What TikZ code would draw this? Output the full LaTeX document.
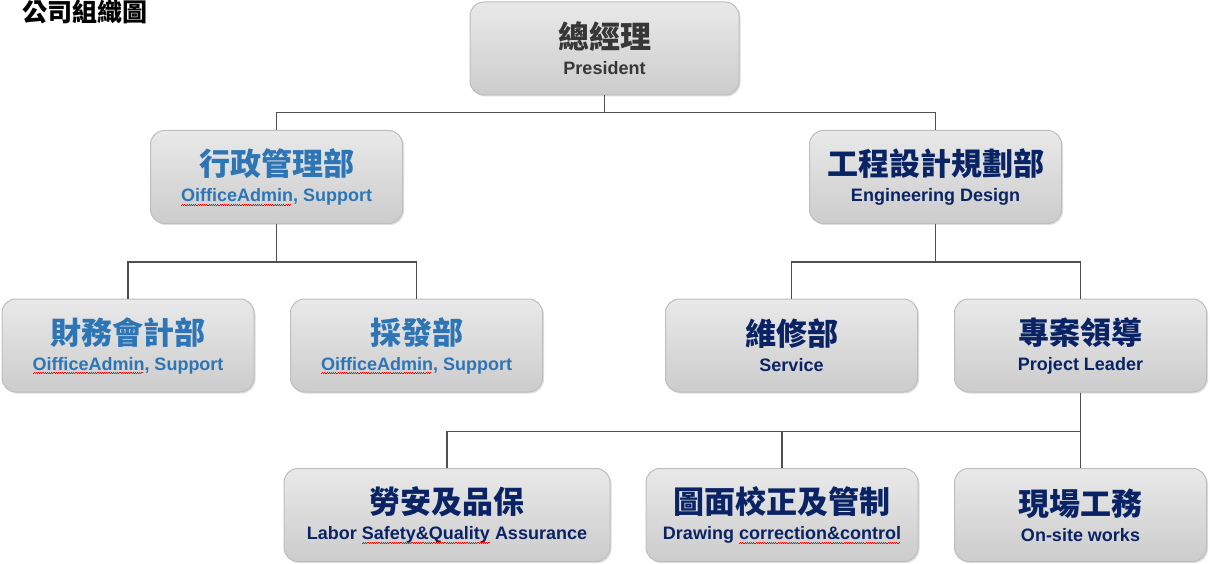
\documentclass[tikz,border=0pt]{standalone}
\usepackage{fontspec}
\setmainfont{Liberation Sans}
\newfontfamily\cjkfont{Noto Sans CJK TC}
\usetikzlibrary{shadows}
\definecolor{boxtop}{RGB}{233, 233, 233}
\definecolor{boxbot}{RGB}{204, 204, 204}
\definecolor{boxrim}{RGB}{190, 190, 190}
\definecolor{linegray}{RGB}{80, 80, 80}
\definecolor{officeblue}{RGB}{46, 117, 182}
\definecolor{navy}{RGB}{10, 35, 100}
\definecolor{darktext}{RGB}{55, 55, 55}
\tikzset{
  unitbox/.style = {rounded corners=14pt, top color=boxtop, bottom color=boxbot,
    draw=boxrim, line width=1pt, drop shadow={opacity=0.25, shadow xshift=1.5pt, shadow yshift=-1.5pt},
    minimum width=252pt, minimum height=93pt, inner sep=0pt, align=center,
    font=\bfseries\fontsize{18}{26}\selectfont},
  link/.style = {draw=linegray, line width=1.8pt}
}
\newcommand{\zh}[1]{{\cjkfont\bfseries\fontsize{31}{34}\selectfont #1}}
\newsavebox\wavebox
\newcommand{\wavy}[1]{\sbox\wavebox{#1}\rlap{\usebox\wavebox}\makebox[\wd\wavebox][l]{\color{red}%
  \leaders\hbox{\rule[-3.8pt]{1.1pt}{0.7pt}\rule[-3.0pt]{1.1pt}{0.7pt}}\hfill}}

\begin{document}
\begin{tikzpicture}[x=1pt, y=-1pt]
\useasboundingbox[fill=white] (0,0) rectangle (1210,564);

\node[anchor=north west, inner sep=0pt] (title) at (22,0) {\cjkfont\bfseries\fontsize{25}{28}\selectfont 公司組織圖};

% top
\node[unitbox, minimum width=269pt, text=darktext] (pres) at (604.5,48.5)
  {\zh{總經理}\\President};

% second row
\node[unitbox, text=officeblue] (admin) at (276.5,177)
  {\zh{行政管理部}\\\wavy{OifficeAdmin}, Support};
\node[unitbox, text=navy] (eng) at (935.5,177)
  {\zh{工程設計規劃部}\\Engineering Design};

% third row
\node[unitbox, text=officeblue] (fin) at (128,345.5)
  {\zh{財務會計部}\\\wavy{OifficeAdmin}, Support};
\node[unitbox, text=officeblue] (buy) at (416.5,345.5)
  {\zh{採發部}\\\wavy{OifficeAdmin}, Support};
\node[unitbox, text=navy] (serv) at (791.5,345.5)
  {\zh{維修部}\\Service};
\node[unitbox, text=navy] (lead) at (1080.5,345.5)
  {\zh{專案領導}\\Project Leader};

% bottom row
\node[unitbox, minimum width=326pt, text=navy] (safe) at (447,515)
  {\zh{勞安及品保}\\Labor \wavy{Safety\&Quality} Assurance};
\node[unitbox, minimum width=272pt, text=navy] (draw) at (782,515)
  {\zh{圖面校正及管制}\\Drawing \wavy{correction\&control}};
\node[unitbox, text=navy] (site) at (1080.5,515)
  {\zh{現場工務}\\On-site works};

% connectors
\foreach \child in {admin, eng}{
\draw[link] (pres.south) -- ++(0,17) -| (\child.north);
}
\foreach \child in {fin, buy}{
\draw[link] (admin.south) -- ++(0,38) -| (\child.north);
}
\foreach \child in {serv, lead}{
\draw[link] (eng.south) -- ++(0,38) -| (\child.north);
}
\foreach \child in {safe, draw, site}{
\draw[link] (lead.south) -- ++(0,39) -| (\child.north);
}
\end{tikzpicture}
\end{document}
